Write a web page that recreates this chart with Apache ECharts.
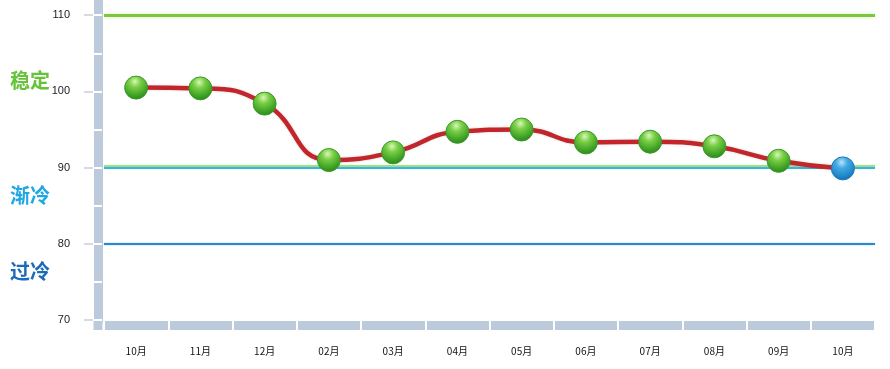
<!DOCTYPE html>
<html>
<head>
<meta charset="utf-8">
<script src="https://cdn.jsdelivr.net/npm/echarts@6/dist/echarts.min.js"></script>
<style>html,body{margin:0;padding:0;background:#fff}#c{width:890px;height:369px}</style>
</head>
<body>
<div id="c"></div>
<script>
const months = ['10月','11月','12月','02月','03月','04月','05月','06月','07月','08月','09月','10月'];
const values = [100.5, 100.4, 98.4, 91.0, 92.0, 94.7, 95.0, 93.3, 93.4, 92.8, 90.9, 89.9];
const yTicks = [70, 80, 90, 100, 110];
const ySeparators = [70, 75, 80, 85, 90, 95, 100, 105, 110];
const levelStable = 110;
const levelCooling = 90;
const levelCold = 80;
const zoneNames = ['稳定', '渐冷', '过冷'];

const greenBall = {
  type: 'radial', x: 0.45, y: 0.25, r: 0.8,
  colorStops: [{offset: 0, color: '#d8f7bc'}, {offset: 0.3, color: '#79cf45'}, {offset: 0.75, color: '#3c9e24'}, {offset: 1, color: '#2a7f18'}]
};
const blueBall = {
  type: 'radial', x: 0.45, y: 0.25, r: 0.8,
  colorStops: [{offset: 0, color: '#b8e4fa'}, {offset: 0.3, color: '#44aae2'}, {offset: 0.75, color: '#1f84c8'}, {offset: 1, color: '#156aa8'}]
};

const chart = echarts.init(document.getElementById('c'));
const barColor = '#bccbdb';
const font = "'Noto Sans CJK SC', 'Liberation Sans', sans-serif";

chart.setOption({
  animation: false,
  grid: {left: 104, right: 15, top: 0, bottom: 49},
  xAxis: [
    {
      type: 'category', data: months, boundaryGap: true, offset: 5,
      axisLine: {show: true, lineStyle: {color: barColor, width: 9, cap: 'butt'}},
      axisTick: {show: false},
      axisLabel: {margin: 21, fontSize: 10, color: '#111', fontFamily: font}
    },
    {
      type: 'category', data: months, boundaryGap: true, position: 'bottom', offset: 1, z: 5,
      axisLine: {show: false},
      axisTick: {show: true, alignWithLabel: false, length: 9, lineStyle: {color: '#fff', width: 2}},
      axisLabel: {show: false}
    }
  ],
  yAxis: [
    {
      type: 'value', min: 70, max: 112, interval: 5, position: 'left', offset: 10,
      axisLine: {show: false},
      axisTick: {show: true, length: 10, customValues: yTicks, lineStyle: {color: '#c8d0d8', width: 1.5}},
      axisLabel: {customValues: yTicks, margin: 24, fontSize: 11, color: '#222', fontFamily: "'Liberation Sans', Arial, sans-serif"},
      splitLine: {show: false}
    },
    {
      type: 'value', min: 70, max: 112, interval: 5, position: 'left', offset: 6,
      axisLine: {show: true, lineStyle: {color: barColor, width: 9}},
      axisTick: {show: false},
      axisLabel: {show: false},
      splitLine: {show: false}
    },
    {
      type: 'value', min: 70, max: 112, interval: 5, position: 'left', offset: 2, z: 5,
      axisLine: {show: false},
      axisTick: {show: true, length: 9, customValues: ySeparators, lineStyle: {color: '#fff', width: 2}},
      axisLabel: {show: false},
      splitLine: {show: false}
    }
  ],
  graphic: [
    {type: 'rect', shape: {x: 93.5, y: 321, width: 9, height: 9}, style: {fill: barColor}, z: 1},
    {type: 'text', left: 10, top: 70, style: {text: zoneNames[0], fill: '#66c23a', font: "bold 20px " + font}},
    {type: 'text', left: 10, top: 185, style: {text: zoneNames[1], fill: '#1ea7e4', font: "bold 20px " + font}},
    {type: 'text', left: 10, top: 261, style: {text: zoneNames[2], fill: '#1a6bb9', font: "bold 20px " + font}}
  ],
  series: [{
    type: 'line', data: values.map((v, i) => ({
      value: v,
      itemStyle: {color: i === values.length - 1 ? blueBall : greenBall,
                  borderColor: i === values.length - 1 ? '#1a78b8' : '#3a9a28', borderWidth: 1}
    })),
    smooth: 0.5, z: 3,
    symbol: 'circle', symbolSize: 23, showSymbol: true,
    lineStyle: {color: '#c2262b', width: 4.5, shadowColor: 'rgba(0,0,0,0.15)', shadowBlur: 3},
    markLine: {
      silent: true, symbol: 'none', label: {show: false}, z: 1,
      data: [
        {yAxis: levelStable, lineStyle: {color: '#7cc741', width: 3, type: 'solid', shadowColor: '#d4f0b8', shadowBlur: 4}},
        {yAxis: levelCooling, lineStyle: {color: '#33b6e6', width: 2, type: 'solid', shadowColor: '#9ad97a', shadowOffsetY: -2, shadowBlur: 1}},
        {yAxis: levelCold, lineStyle: {color: '#2b88cf', width: 2, type: 'solid', shadowColor: '#9fd0ee', shadowBlur: 2}}
      ]
    }
  }]
});
</script>
</body>
</html>
